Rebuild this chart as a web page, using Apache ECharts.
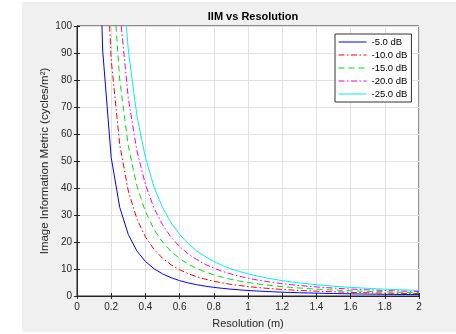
<!DOCTYPE html>
<html>
<head>
<meta charset="utf-8">
<script src="https://cdn.jsdelivr.net/npm/echarts@6/dist/echarts.min.js"></script>
<style>
html,body{margin:0;padding:0;background:#fff;}
#c{width:456px;height:334px;}
</style>
</head>
<body>
<div id="c"></div>
<script>
// Resolution (m)
const resolution = [0.10,0.15,0.20,0.25,0.30,0.35,0.40,0.45,0.50,0.55,0.60,0.65,0.70,0.75,0.80,0.85,0.90,0.95,1.00,
  1.05,1.10,1.15,1.20,1.25,1.30,1.35,1.40,1.45,1.50,1.55,1.60,1.65,1.70,1.75,1.80,1.85,1.90,1.95,2.00];
const seriesNames = ['-5.0 dB','-10.0 dB','-15.0 dB','-20.0 dB','-25.0 dB'];
const iim_5  = [205,91.1,51.3,32.8,22.8,16.7,12.8,10.1,8.2,6.78,5.69,4.85,4.18,3.64,3.20,2.84,2.53,2.27,2.05,
  1.86,1.69,1.55,1.42,1.31,1.21,1.12,1.05,0.98,0.91,0.85,0.80,0.75,0.71,0.67,0.63,0.60,0.57,0.54,0.51];
const iim_10 = [350,155.6,87.5,56,38.9,28.6,21.9,17.3,14,11.57,9.72,8.28,7.14,6.22,5.47,4.84,4.32,3.88,3.5,
  3.17,2.89,2.65,2.43,2.24,2.07,1.92,1.79,1.66,1.56,1.46,1.37,1.29,1.21,1.14,1.08,1.02,0.97,0.92,0.875];
const iim_15 = [500,222,125,80,55.6,40.8,31.3,24.7,20,16.5,13.9,11.8,10.2,8.89,7.81,6.92,6.17,5.54,5,
  4.54,4.13,3.78,3.47,3.2,2.96,2.74,2.55,2.38,2.22,2.08,1.95,1.84,1.73,1.63,1.54,1.46,1.39,1.31,1.25];
const iim_20 = [660,293,165,105.6,73.3,53.9,41.3,32.6,26.4,21.8,18.3,15.6,13.5,11.7,10.3,9.13,8.15,7.31,6.6,
  5.99,5.45,4.99,4.58,4.22,3.91,3.62,3.37,3.14,2.93,2.75,2.58,2.42,2.28,2.16,2.04,1.93,1.83,1.74,1.65];
const iim_25 = [820,364,205,131,91.1,66.9,51.3,40.5,32.8,27.1,22.8,19.4,16.7,14.6,12.8,11.3,10.1,9.09,8.2,
  7.44,6.78,6.2,5.69,5.25,4.85,4.5,4.18,3.9,3.64,3.41,3.2,3.01,2.84,2.68,2.53,2.4,2.27,2.16,2.05];
const allSeries = [iim_5, iim_10, iim_15, iim_20, iim_25];

const colors = ['#0000ff','#ff0000','#00e000','#ee00ee','#00f0f0'];
const dashes = ['solid',[6,2.5,1.5,2.5],[6,4],[6,2.5,1.5,2.5],'solid'];
const FONT = 'Liberation Sans, Arial, Helvetica, sans-serif';
const TXT = '#262626';

const chart = echarts.init(document.getElementById('c'), null, {renderer:'canvas'});
const series = allSeries.map((vals,i)=>({
  name: seriesNames[i],
  type: 'line',
  symbol: 'none',
  clip: true,
  animation: false,
  data: resolution.map((x,j)=>[x, vals[j]]),
  lineStyle: {color: colors[i], width: 1, type: dashes[i]},
  itemStyle: {color: colors[i]},
  xAxisIndex: 0, yAxisIndex: 0
}));

chart.setOption({
  animation: false,
  backgroundColor: '#ffffff',
  graphic: [{type:'rect', left:22, top:2, shape:{width:434, height:330}, style:{fill:'#f0f0f0'}, z:-10}],
  title: {
    text: 'IIM vs Resolution', left: 248, top: 6, textAlign: 'center',
    textStyle: {fontFamily: FONT, fontSize: 11, fontWeight: 'bold', color: '#000'}
  },
  grid: {left:77, top:26, right:37, bottom:38, show:true, backgroundColor:'#fff', borderColor:TXT, borderWidth:1, containLabel:false},
  legend: {
    orient:'vertical', left:335, top:34, padding:[3,4,3,3], itemWidth:28, itemHeight:11, itemGap:3,
    backgroundColor:'#fff', borderColor:'#333', borderWidth:1, borderRadius:0,
    itemStyle:{opacity:0},
    lineStyle:{width:1},
    textStyle:{fontFamily:FONT, fontSize:9.5, color:'#000'},
    data: seriesNames
  },
  xAxis: [{
    type:'value', min:0, max:2, interval:0.2, position:'bottom',
    name:'Resolution (m)', nameLocation:'middle', nameGap:22, nameMoveOverlap:false,
    nameTextStyle:{fontFamily:FONT, fontSize:11, color:TXT},
    axisLine:{show:true, lineStyle:{color:TXT}},
    axisTick:{show:true, inside:true, length:3, lineStyle:{color:TXT}},
    axisLabel:{fontFamily:FONT, fontSize:10, color:TXT, margin:6},
    splitLine:{show:true, lineStyle:{color:'#e2e2e2', width:1}}
  },{
    type:'value', min:0, max:2, interval:0.2, position:'top',
    axisLine:{show:true, lineStyle:{color:TXT}},
    axisTick:{show:true, inside:true, length:3, lineStyle:{color:TXT}},
    axisLabel:{show:false}, splitLine:{show:false}
  }],
  yAxis: [{
    type:'value', min:0, max:100, interval:10, position:'left',
    name:'Image Information Metric (cycles/m²)', nameLocation:'middle', nameGap:26, nameMoveOverlap:false,
    nameTextStyle:{fontFamily:FONT, fontSize:11.5, color:TXT},
    axisLine:{show:true, lineStyle:{color:TXT}},
    axisTick:{show:true, inside:true, length:3, lineStyle:{color:TXT}},
    axisLabel:{fontFamily:FONT, fontSize:10, color:TXT, margin:5},
    splitLine:{show:true, lineStyle:{color:'#e2e2e2', width:1}}
  },{
    type:'value', min:0, max:100, interval:10, position:'right',
    axisLine:{show:true, lineStyle:{color:TXT}},
    axisTick:{show:true, inside:true, length:3, lineStyle:{color:TXT}},
    axisLabel:{show:false}, splitLine:{show:false}
  }],
  series: series
});
</script>
</body>
</html>
